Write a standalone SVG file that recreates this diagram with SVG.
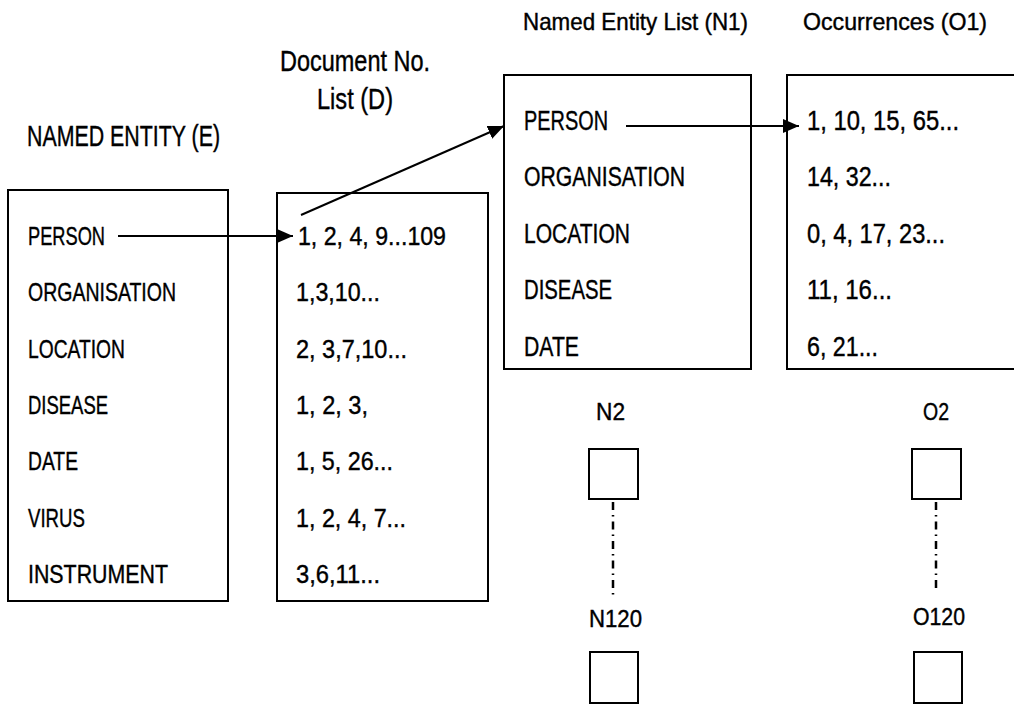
<svg xmlns="http://www.w3.org/2000/svg" width="1014" height="704" viewBox="0 0 1014 704">
<style>
text{font-family:"Liberation Sans","Arial",sans-serif;fill:#000;stroke:#000;stroke-width:0.4}
.t{font-size:29px}
.h{font-size:24px}
.l{font-size:26px}
.m{font-size:27px}
.box{fill:#fff;stroke:#000;stroke-width:2}
.c{stroke:#000;stroke-width:2;fill:none}
.dd{stroke:#000;stroke-width:2.5;fill:none;stroke-dasharray:8 5 1.5 5}
</style>
<defs>
<marker id="ah" markerUnits="userSpaceOnUse" markerWidth="16" markerHeight="14" refX="16" refY="7" orient="auto">
<path d="M0,0 L16,7 L0,14 z" fill="#000"/>
</marker>
</defs>
<rect width="1014" height="704" fill="#fff"/>

<g id="titles">
<text class="t" x="27" y="146" textLength="193" lengthAdjust="spacingAndGlyphs">NAMED ENTITY (E)</text>
<text class="t" x="280" y="71" textLength="150" lengthAdjust="spacingAndGlyphs">Document No.</text>
<text class="t" x="317" y="109" textLength="76" lengthAdjust="spacingAndGlyphs">List (D)</text>
<text class="h" x="523" y="30" textLength="225" lengthAdjust="spacingAndGlyphs">Named Entity List (N1)</text>
<text class="h" x="803" y="30" textLength="184" lengthAdjust="spacingAndGlyphs">Occurrences (O1)</text>
</g>

<g id="node-E">
<rect class="box" x="8" y="190" width="220" height="411"/>
<text class="l" x="28" y="245" textLength="77" lengthAdjust="spacingAndGlyphs">PERSON</text>
<text class="l" x="28" y="301" textLength="148" lengthAdjust="spacingAndGlyphs">ORGANISATION</text>
<text class="l" x="28" y="358" textLength="97" lengthAdjust="spacingAndGlyphs">LOCATION</text>
<text class="l" x="28" y="414" textLength="80" lengthAdjust="spacingAndGlyphs">DISEASE</text>
<text class="l" x="28" y="470" textLength="50" lengthAdjust="spacingAndGlyphs">DATE</text>
<text class="l" x="28" y="527" textLength="57" lengthAdjust="spacingAndGlyphs">VIRUS</text>
<text class="l" x="28" y="583" textLength="140" lengthAdjust="spacingAndGlyphs">INSTRUMENT</text>
</g>

<g id="node-D">
<rect class="box" x="277" y="193" width="211" height="408"/>
<text class="l" x="298" y="245" textLength="148" lengthAdjust="spacingAndGlyphs">1, 2, 4, 9...109</text>
<text class="l" x="296" y="301" textLength="84" lengthAdjust="spacingAndGlyphs">1,3,10...</text>
<text class="l" x="296" y="358" textLength="111" lengthAdjust="spacingAndGlyphs">2, 3,7,10...</text>
<text class="l" x="296" y="414" textLength="72" lengthAdjust="spacingAndGlyphs">1, 2, 3,</text>
<text class="l" x="296" y="470" textLength="97" lengthAdjust="spacingAndGlyphs">1, 5, 26...</text>
<text class="l" x="296" y="527" textLength="110" lengthAdjust="spacingAndGlyphs">1, 2, 4, 7...</text>
<text class="l" x="296" y="583" textLength="84" lengthAdjust="spacingAndGlyphs">3,6,11...</text>
</g>

<g id="node-N1">
<rect class="box" x="504" y="75" width="247" height="294"/>
<text class="m" x="524" y="130" textLength="84" lengthAdjust="spacingAndGlyphs">PERSON</text>
<text class="m" x="524" y="186" textLength="161" lengthAdjust="spacingAndGlyphs">ORGANISATION</text>
<text class="m" x="524" y="243" textLength="106" lengthAdjust="spacingAndGlyphs">LOCATION</text>
<text class="m" x="524" y="299" textLength="88" lengthAdjust="spacingAndGlyphs">DISEASE</text>
<text class="m" x="524" y="356" textLength="55" lengthAdjust="spacingAndGlyphs">DATE</text>
</g>

<g id="node-O1">
<rect class="box" x="787" y="75" width="240" height="294"/>
<text class="m" x="807" y="130" textLength="152" lengthAdjust="spacingAndGlyphs">1, 10, 15, 65...</text>
<text class="m" x="807" y="186" textLength="84" lengthAdjust="spacingAndGlyphs">14, 32...</text>
<text class="m" x="807" y="243" textLength="138" lengthAdjust="spacingAndGlyphs">0, 4, 17, 23...</text>
<text class="m" x="807" y="299" textLength="85" lengthAdjust="spacingAndGlyphs">11, 16...</text>
<text class="m" x="807" y="356" textLength="71" lengthAdjust="spacingAndGlyphs">6, 21...</text>
</g>

<g id="node-N2">
<text class="h" x="596" y="420" textLength="29" lengthAdjust="spacingAndGlyphs">N2</text>
<rect class="box" x="589" y="449" width="49" height="50"/>
</g>
<g id="node-N120">
<text class="h" x="589" y="627" textLength="53" lengthAdjust="spacingAndGlyphs">N120</text>
<rect class="box" x="590" y="652" width="48" height="51"/>
</g>
<g id="node-O2">
<text class="h" x="923" y="420" textLength="26" lengthAdjust="spacingAndGlyphs">O2</text>
<rect class="box" x="912" y="449" width="49" height="50"/>
</g>
<g id="node-O120">
<text class="h" x="913" y="625" textLength="52" lengthAdjust="spacingAndGlyphs">O120</text>
<rect class="box" x="914" y="652" width="48" height="51"/>
</g>

<g id="connectors">
<line class="c" x1="118" y1="236" x2="293" y2="236" marker-end="url(#ah)"/>
<line class="c" x1="301" y1="215" x2="504" y2="126" marker-end="url(#ah)"/>
<line class="c" x1="626" y1="126" x2="799" y2="126" marker-end="url(#ah)"/>
<line class="dd" x1="613" y1="502" x2="613" y2="598"/>
<line class="dd" x1="936" y1="502" x2="936" y2="593"/>
</g>
</svg>
